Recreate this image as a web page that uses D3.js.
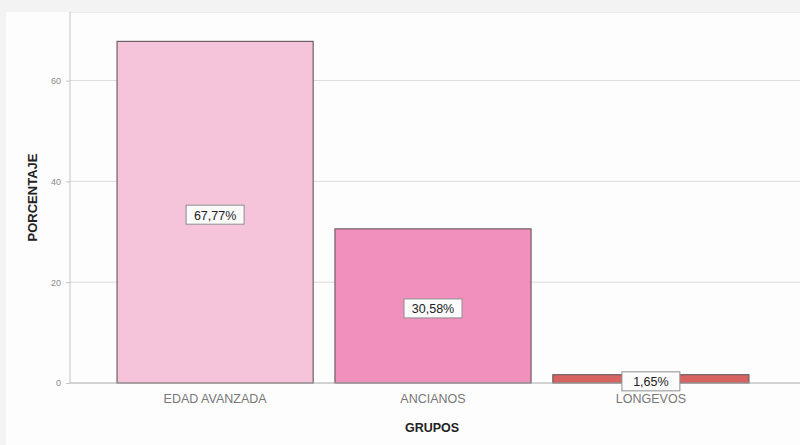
<!DOCTYPE html>
<html>
<head>
<meta charset="utf-8">
<script src="https://cdn.jsdelivr.net/npm/d3@7"></script>
<style>
  body { margin: 0; background: #f3f3f3; }
  svg { display: block; }
</style>
</head>
<body>
<svg id="chart" width="800" height="445"></svg>
<script>
// Data
const categories = ['EDAD AVANZADA', 'ANCIANOS', 'LONGEVOS'];
const values = [67.77, 30.58, 1.65];
const valueLabels = ['67,77%', '30,58%', '1,65%'];
const yTicks = [0, 20, 40, 60];
const barColors = ['#f6c4da', '#f190bd', '#d8625f'];

const width = 800;
const height = 445;
const margin = { top: 12, right: 4, bottom: 62, left: 70 };

const svg = d3.select('#chart');

// panel background
svg.append('rect')
  .attr('x', 6).attr('y', 12)
  .attr('width', width - 6).attr('height', height - 12)
  .attr('fill', '#fdfdfd');

const x = d3.scaleBand()
  .domain(categories)
  .range([margin.left, 796])
  .paddingInner(0.1)
  .paddingOuter(0.216);

const y = d3.scaleLinear()
  .domain([0, 73.6])
  .range([height - margin.bottom, margin.top]);

// gridlines
svg.append('g')
  .selectAll('line')
  .data(yTicks.filter(d => d > 0))
  .join('line')
  .attr('x1', margin.left).attr('x2', width)
  .attr('y1', d => y(d)).attr('y2', d => y(d))
  .attr('stroke', '#dcdcdc')
  .attr('stroke-width', 1);

// top frame line
svg.append('line')
  .attr('x1', margin.left).attr('x2', width)
  .attr('y1', margin.top + 0.5).attr('y2', margin.top + 0.5)
  .attr('stroke', '#ececec');

// y axis
const yAxis = svg.append('g')
  .attr('transform', `translate(${margin.left},0)`)
  .call(d3.axisLeft(y).tickValues(yTicks).tickSize(4).tickFormat(d3.format('d')));
yAxis.select('.domain').attr('stroke', '#c4c4c4').attr('d', `M0,${margin.top}V${y(0)}`);
yAxis.selectAll('.tick line').attr('stroke', '#c4c4c4');
yAxis.selectAll('.tick text')
  .attr('fill', '#8a8a8a')
  .style('font-family', 'Arial, "Liberation Sans", sans-serif')
  .style('font-size', '9px')
  .attr('x', -9);

// bars
svg.append('g')
  .selectAll('rect')
  .data(values)
  .join('rect')
  .attr('x', (d, i) => x(categories[i]))
  .attr('y', d => y(d))
  .attr('width', x.bandwidth())
  .attr('height', d => y(0) - y(d))
  .attr('fill', (d, i) => barColors[i])
  .attr('stroke', '#6e6066')
  .attr('stroke-width', 1.2);

// x axis
const xAxis = svg.append('g')
  .attr('transform', `translate(0,${y(0)})`)
  .call(d3.axisBottom(x).tickSize(0).tickPadding(11));
xAxis.select('.domain').attr('stroke', '#a8a8a8').attr('d', `M${margin.left},0H${width}`);
xAxis.selectAll('.tick text')
  .attr('fill', '#777')
  .style('font-family', 'Arial, "Liberation Sans", sans-serif')
  .style('font-size', '12.5px');

// value labels
const labels = svg.append('g')
  .selectAll('g')
  .data(values)
  .join('g')
  .attr('transform', (d, i) => `translate(${x(categories[i]) + x.bandwidth() / 2},${(y(d) + y(0)) / 2 + 3})`);

labels.append('rect')
  .attr('x', -29).attr('y', -10)
  .attr('width', 58).attr('height', 19)
  .attr('fill', '#fbfbfb')
  .attr('stroke', '#8d8d8d')
  .attr('stroke-width', 1);

labels.append('text')
  .attr('text-anchor', 'middle')
  .attr('dy', '0.35em')
  .attr('fill', '#222')
  .style('font-family', 'Arial, "Liberation Sans", sans-serif')
  .style('font-size', '12.5px')
  .text((d, i) => valueLabels[i]);

// axis titles
svg.append('text')
  .attr('transform', `translate(37,${(margin.top + y(0)) / 2}) rotate(-90)`)
  .attr('text-anchor', 'middle')
  .attr('fill', '#222')
  .style('font-family', 'Arial, "Liberation Sans", sans-serif')
  .style('font-size', '13px')
  .style('font-weight', 'bold')
  .text('PORCENTAJE');

svg.append('text')
  .attr('x', 432).attr('y', 432)
  .attr('text-anchor', 'middle')
  .attr('fill', '#222')
  .style('font-family', 'Arial, "Liberation Sans", sans-serif')
  .style('font-size', '12.5px')
  .style('font-weight', 'bold')
  .text('GRUPOS');
</script>
</body>
</html>
